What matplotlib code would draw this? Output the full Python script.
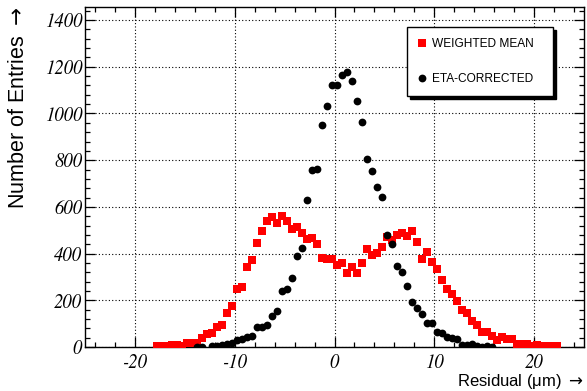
import numpy as np
import matplotlib
matplotlib.use("Agg")
import matplotlib.pyplot as plt
from matplotlib.ticker import MultipleLocator

plt.rcParams['axes.unicode_minus'] = False
plt.rcParams['font.family'] = ['STIXGeneral', 'DejaVu Serif']
plt.rcParams['font.style'] = 'italic'
plt.rcParams['mathtext.fontset'] = 'dejavusans'

# ---- data (bin centres, 0.5 um bins) ----
wm_x = np.arange(-17.75, 22.26, 0.5)
wm_y = [3, 3, 4, 8, 9, 6, 16, 17, 18, 37, 56, 60, 87, 94, 147, 177, 247, 256,
        344, 371, 446, 495, 541, 558, 529, 562, 541, 504, 514, 489, 463, 465,
        441, 381, 375, 375, 350, 361, 315, 344, 318, 361, 421, 394, 401, 427,
        472, 458, 481, 490, 475, 498, 451, 375, 408, 364, 333, 287, 247, 227,
        198, 158, 145, 110, 93, 66, 66, 48, 32, 41, 34, 34, 12, 12, 11, 6, 7,
        4, 3, 3, 3]

eta_x = np.arange(-13.75, 15.76, 0.5)
eta_y = [1, 1, np.nan, 4, 6, 8, 13, 18, 28, 35, 41, 48, 87, 85, 94, 133, 155,
         241, 250, 294, 389, 422, 629, 760, 761, 952, 1034, 1122, 1124, 1163,
         1176, 1141, 1054, 962, 804, 753, 685, 643, 478, 442, 347, 322, 261,
         193, 166, 141, 104, 104, 66, 59, 41, 40, 33, 8, 8, 13, 6, 2, 5, 2]

series_labels = ["WEIGHTED MEAN", "ETA-CORRECTED"]
x_label = "Residual (\u03bcm) $\\rightarrow$"
y_label = "Number of Entries $\\rightarrow$"

sans = ['Liberation Sans', 'DejaVu Sans']

fig = plt.figure(figsize=(5.87, 3.91), dpi=100)
ax = fig.add_axes([0.1448, 0.1125, 0.8501, 0.8696])

l1, = ax.plot(wm_x, wm_y, linestyle='none', marker='s', markersize=5.3,
              color='#ff0000', markeredgewidth=0, label=series_labels[0], zorder=3)
l2, = ax.plot(eta_x, eta_y, linestyle='none', marker='o', markersize=5.6,
              color='black', markeredgewidth=0, label=series_labels[1], zorder=4)

ax.set_xlim(-25, 25)
ax.set_ylim(0, 1456)
ax.xaxis.set_major_locator(MultipleLocator(10))
ax.xaxis.set_minor_locator(MultipleLocator(2))
ax.yaxis.set_major_locator(MultipleLocator(200))
ax.yaxis.set_minor_locator(MultipleLocator(40))

ax.grid(True, which='major', color='black', linestyle=(0, (1, 2)), linewidth=0.8)
ax.set_axisbelow(True)

ax.tick_params(which='both', direction='in', top=True, right=True, width=0.9,
               labelsize=13.5)
ax.tick_params(which='major', length=7)
ax.tick_params(which='minor', length=3.5)
ax.tick_params(axis='y', pad=2)
ax.tick_params(axis='x', pad=4.5)
for s in ax.spines.values():
    s.set_linewidth(1.0)

ax.set_xlabel(x_label, fontsize=12, family=sans, style='normal', loc='right')
ax.set_ylabel(y_label, fontsize=15.5, family=sans, style='normal', loc='top')
ax.xaxis.set_label_coords(1.0, -0.073)
ax.yaxis.set_label_coords(-0.112, 1.0)

leg = ax.legend(handles=[l1, l2], loc='upper left',
                bbox_to_anchor=(0.645, 0.744, 0.293, 0.197), mode='expand',
                borderaxespad=0, fancybox=False, edgecolor='black', framealpha=1,
                shadow={'color': 'black', 'alpha': 1}, labelspacing=1.9,
                handlelength=0.7, handletextpad=0.45, borderpad=0.95,
                prop={'family': sans, 'size': 8.6, 'style': 'normal'})
leg.get_frame().set_linewidth(1.0)
leg.set_zorder(10)

fig.savefig("out.png", dpi=100)
